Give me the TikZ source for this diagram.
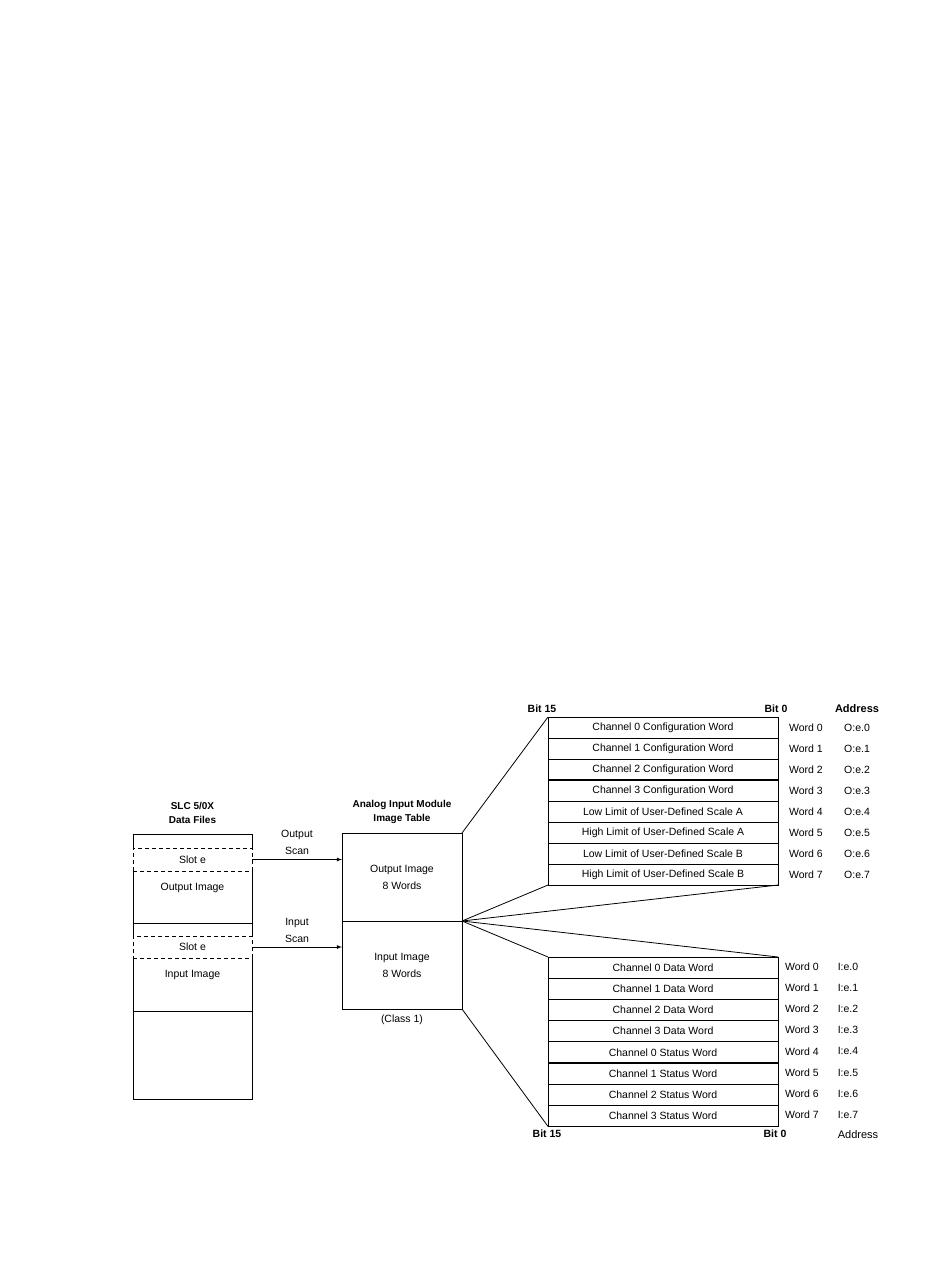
\documentclass[tikz,border=0pt]{standalone}
\usepackage{fontspec}
\setmainfont{Liberation Sans}
\usetikzlibrary{arrows, positioning}

\begin{document}
\begin{tikzpicture}[x=1pt, y=-1pt, line width=0.8pt, node distance=0pt,
    font=\fontsize{10.5}{12}\selectfont,
    cell/.style={rectangle, inner sep=0pt, outer sep=0pt, minimum width=119pt},
    slotbox/.style={cell, draw, dash pattern=on 4pt off 3pt},
    imgbox/.style={rectangle, draw, inner sep=0pt, outer sep=0pt, minimum width=120pt, minimum height=88pt, align=center, font=\fontsize{10.5}{17}\selectfont},
    wordbox/.style={rectangle, draw, inner sep=0pt, outer sep=0pt, minimum width=230pt, minimum height=21pt},
    title/.style={align=center, inner sep=1pt, font=\bfseries\fontsize{10}{14}\selectfont},
    scan/.style={align=center, inner sep=1pt, font=\fontsize{10.5}{17}\selectfont},
    bitlbl/.style={inner sep=1pt, font=\bfseries\fontsize{10.5}{12}\selectfont}]
    \useasboundingbox (0,0) rectangle (950,1267);

    % SLC data files
    \node [cell, minimum height=14pt] (slcTop) at (192.5,841) {};
    \node [slotbox, minimum height=23pt, below=of slcTop] (slotO) {Slot e};
    \node [cell, minimum height=34pt, below=of slotO] (outImg) {Output Image};
    \node [cell, minimum height=18pt, below=of outImg] (outGap) {};
    \node [cell, minimum height=13pt, below=of outGap] (inTop) {};
    \node [slotbox, minimum height=22pt, below=of inTop] (slotI) {Slot e};
    \node [cell, minimum height=34pt, below=of slotI] (inImg) {Input Image};
    \node [cell, minimum height=19pt, below=of inImg] (inGap) {};
    \node [cell, minimum height=88pt, below=of inGap] (slcFree) {};
    \node [title, above=9pt of slcTop] (slcTitle) {SLC 5/0X\\Data Files};

    \draw (slotO.north west) |- (slcTop.north east) -- (slotO.north east);
    \draw (slotO.south west) -- (slotI.north west);
    \draw (slotO.south east) -- (slotI.north east);
    \draw (outGap.south west) -- (outGap.south east);
    \draw (slotI.south west) |- (slcFree.south east) -- (slotI.south east);
    \draw (inGap.south west) -- (inGap.south east);

    % image table
    \node [imgbox] (outTab) at (402,877) {Output Image\\8 Words};
    \node [imgbox, below=of outTab] (inTab) {Input Image\\8 Words};
    \node [title, above=8pt of outTab] (modTitle) {Analog Input Module\\Image Table};
    \node [below=2pt of inTab] (classLbl) {(Class 1)};

    \draw[-latex] (slotO.east) -- (slotO.east -| outTab.west) node [scan, midway, above=3.5pt] (outScan) {Output\\Scan};
    \draw[-latex] (slotI.east) -- (slotI.east -| inTab.west) node [scan, midway, above=3.5pt] (inScan) {Input\\Scan};

    % output words
    \foreach \txt [count=\i from 0] in {Channel 0 Configuration Word, Channel 1 Configuration Word,
        Channel 2 Configuration Word, Channel 3 Configuration Word, Low Limit of User-Defined Scale A,
        High Limit of User-Defined Scale A, Low Limit of User-Defined Scale B, High Limit of User-Defined Scale B} {
        \node [wordbox] (cfg\i) at (663, {727.5+21*\i}) {\txt};
        \node (wo\i) at ([xshift=28pt]cfg\i.east) {Word \i};
        \node (ao\i) at ([xshift=79pt]cfg\i.east) {O:e.\i};
    }
    \draw[line width=1.6pt] (cfg3.north west) -- (cfg3.north east);
    \node [bitlbl, above=3pt of cfg0.north west, xshift=-6pt] (bitO15) {Bit 15};
    \node [bitlbl, above=3pt of cfg0.north east, xshift=-2pt] (bitO0) {Bit 0};
    \node [bitlbl, font=\bfseries\fontsize{11}{13}\selectfont, above=3pt of cfg0.north east, xshift=79pt] (adrO) {Address};

    % input words
    \foreach \txt [count=\i from 0] in {Channel 0 Data Word, Channel 1 Data Word, Channel 2 Data Word,
        Channel 3 Data Word, Channel 0 Status Word, Channel 1 Status Word, Channel 2 Status Word,
        Channel 3 Status Word} {
        \node [wordbox] (dat\i) at (663, {967.5+21.2*\i}) {\txt};
        \node (wi\i) at ([xshift=24pt, yshift=1pt]dat\i.east) {Word \i};
        \node (ai\i) at ([xshift=70pt, yshift=1pt]dat\i.east) {I:e.\i};
    }
    \draw[line width=1.6pt] (dat7.north west) -- (dat7.north east);
    \node [bitlbl, below=2.5pt of dat7.south west, xshift=-1pt] (bitI15) {Bit 15};
    \node [bitlbl, below=2.5pt of dat7.south east, xshift=-3pt] (bitI0) {Bit 0};
    \node [bitlbl, font=\fontsize{11}{13}\selectfont, below=2.5pt of dat7.south east, xshift=80pt] (adrI) {Address};

    % fan lines
    \draw (outTab.north east) -- (cfg0.north west);
    \draw (outTab.south east) -- (cfg7.south west);
    \draw (outTab.south east) -- (cfg7.south east);
    \draw (outTab.south east) -- (dat0.north east);
    \draw (outTab.south east) -- (dat0.north west);
    \draw (inTab.south east) -- (dat7.south west);
\end{tikzpicture}
\end{document}
